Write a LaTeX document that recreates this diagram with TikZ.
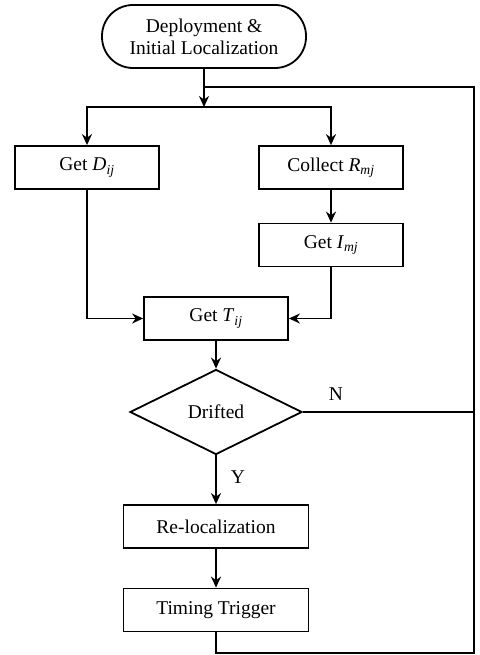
\documentclass[tikz,border=0pt]{standalone}
\usepackage{fontspec}
\setmainfont{Liberation Serif}
\usepackage{tikz}
\usetikzlibrary{arrows.meta,shapes.geometric}

\tikzset{
  box/.style={draw, line width=1.8pt, inner sep=0pt, minimum width=144pt, minimum height=43pt},
  startbox/.style={draw, line width=1.8pt, rounded corners=31pt, inner sep=0pt, minimum width=204pt, minimum height=63pt, align=center},
  decide/.style={draw, diamond, line width=1.8pt, inner sep=0pt, minimum width=172pt, minimum height=85pt},
  arr/.style={line width=1.8pt, -{Stealth[length=11pt,width=10pt]}},
  line/.style={line width=1.8pt}
}

\begin{document}
\begin{tikzpicture}[x=1pt,y=-1pt,font=\fontsize{19.5}{22}\selectfont]

\useasboundingbox (0,0) rectangle (479,655);

\node[startbox] (start) at (204,36.5) {Deployment \&\\Initial Localization};

\coordinate (join) at (204,87);
\coordinate (fork) at (204,107);
\coordinate (cornerTop) at (474,87);
\coordinate (cornerBot) at (474,653);

\node[box] (getD) at (87,167.5) {Get \textit{D}\textsubscript{\textit{ij}}};
\node[box] (collect) at (331,167.5) {Collect \textit{R}\textsubscript{\textit{mj}}};
\node[box] (getI) at (331,245) {Get \textit{I}\textsubscript{\textit{mj}}};
\node[box] (getT) at (216,318.5) {Get \textit{T}\textsubscript{\textit{ij}}};
\node[decide] (drift) at (216,412) {Drifted};
\node[box, minimum width=185pt] (reloc) at (216,526.5) {Re-localization};
\node[box, minimum width=185pt] (timer) at (216,610) {Timing Trigger};

\node (no) at (336,394) {N};
\node (yes) at (238,477) {Y};

\draw[arr] (start) -- (fork);
\draw[arr] (fork) -| (getD);
\draw[arr] (fork) -| (collect);
\draw[arr] (collect) -- (getI);
\draw[arr] (getD) |- (getT);
\draw[arr] (getI) |- (getT);
\draw[arr] (getT) -- (drift);
\draw[arr] (drift) -- (reloc);
\draw[arr] (reloc) -- (timer);

\draw[line] (drift.east) -- (drift.east -| cornerTop);
\draw[line] (timer) |- (cornerBot) -- (cornerTop) -- (join);

\end{tikzpicture}
\end{document}
